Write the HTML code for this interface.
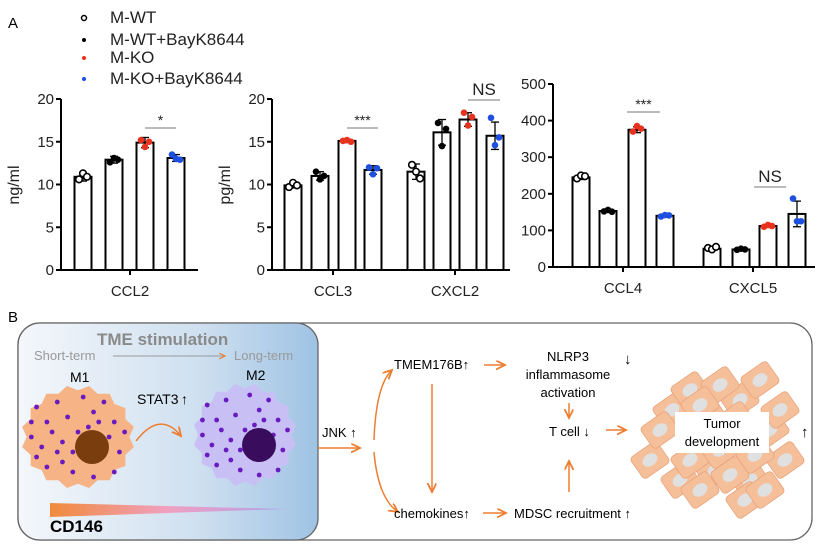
<!DOCTYPE html>
<html><head><meta charset="utf-8"><style>
body{margin:0;background:#fff;}
svg{display:block;font-family:"Liberation Sans",Arial,sans-serif;}
</style></head><body>
<svg id="fig" width="827" height="548" viewBox="0 0 827 548" xmlns="http://www.w3.org/2000/svg">
<defs>
<linearGradient id="bg" x1="0" x2="1" y1="0" y2="0"><stop offset="0" stop-color="#f4f7fb"/><stop offset="0.6" stop-color="#cfe0f0"/><stop offset="1" stop-color="#9fc3e4"/></linearGradient>
<linearGradient id="cd" x1="0" x2="1"><stop offset="0" stop-color="#f08a3c"/><stop offset="0.5" stop-color="#f0a0c0"/><stop offset="1" stop-color="#b0a0e8"/></linearGradient>
<marker id="ar" markerWidth="8" markerHeight="8" refX="6" refY="3" orient="auto"><path d="M0,0 L6,3 L0,6" fill="none" stroke="#ed7d31" stroke-width="1.2"/></marker>
</defs>
<text x="8" y="28" font-size="15">A</text>
<g font-size="17" fill="#222">
<circle cx="84" cy="18" r="2.5" fill="none" stroke="#000" stroke-width="1.5"/><text x="110" y="23">M-WT</text>
<circle cx="84" cy="40" r="2" fill="#000"/><text x="110" y="45">M-WT+BayK8644</text>
<circle cx="84" cy="58" r="2" fill="#e8321e"/><text x="110" y="63">M-KO</text>
<circle cx="84" cy="79" r="2" fill="#1d4fe0"/><text x="110" y="84">M-KO+BayK8644</text>
</g>
<g id="charts"></g>
<text x="8" y="322" font-size="15">B</text>
<g>
<rect x="18" y="323" width="794" height="217" rx="22" fill="#fff" stroke="#666" stroke-width="1.3"/>
<rect x="18" y="323" width="300" height="217" rx="22" fill="url(#bg)" stroke="#666" stroke-width="1.3"/>
<text x="97" y="345" font-size="17" font-weight="bold" fill="#8a8a8a">TME stimulation</text>
<text x="34" y="360" font-size="13" fill="#999">Short-term</text>
<line x1="113" y1="356" x2="225" y2="356" stroke="#999" stroke-width="1" marker-end="url(#ar)"/>
<text x="234" y="360" font-size="13" fill="#999">Long-term</text>
<text x="70" y="382" font-size="14">M1</text><text x="246" y="380" font-size="14">M2</text>
<g id="cells"></g>
<text x="137" y="404" font-size="14">STAT3</text><text x="181" y="404" font-size="14">↑</text>
<path d="M136,441 Q160,410 181,436" fill="none" stroke="#ed7d31" stroke-width="1.5" marker-end="url(#ar)"/>
<polygon points="50,503 50,517 286,509" fill="url(#cd)"/>
<text x="50" y="532" font-size="17" font-weight="bold">CD146</text>
<text x="322" y="437" font-size="13">JNK ↑</text>
<line x1="318" y1="448" x2="360" y2="448" stroke="#ed7d31" stroke-width="1.5" marker-end="url(#ar)"/>
<path d="M374,440 Q376,385 392,370" fill="none" stroke="#ed7d31" stroke-width="1.5" marker-end="url(#ar)"/>
<path d="M374,452 Q378,498 398,512" fill="none" stroke="#ed7d31" stroke-width="1.5" marker-end="url(#ar)"/>
<text x="394" y="369" font-size="13">TMEM176B↑</text>
<line x1="484" y1="365" x2="505" y2="365" stroke="#ed7d31" stroke-width="1.5" marker-end="url(#ar)"/>
<line x1="432" y1="384" x2="432" y2="492" stroke="#ed7d31" stroke-width="1.5" marker-end="url(#ar)"/>
<text x="394" y="518" font-size="13">chemokines↑</text>
<line x1="483" y1="513" x2="506" y2="513" stroke="#ed7d31" stroke-width="1.5" marker-end="url(#ar)"/>
<text x="514" y="518" font-size="13">MDSC recruitment ↑</text>
<text x="568" y="361" font-size="13" text-anchor="middle">NLRP3</text>
<text x="568" y="379" font-size="13" text-anchor="middle">inflammasome</text>
<text x="568" y="397" font-size="13" text-anchor="middle">activation</text>
<text x="624" y="364" font-size="15">↓</text>
<line x1="569" y1="403" x2="569" y2="418" stroke="#ed7d31" stroke-width="1.5" marker-end="url(#ar)"/>
<text x="549" y="436" font-size="13">T cell ↓</text>
<line x1="606" y1="430" x2="626" y2="430" stroke="#ed7d31" stroke-width="1.5" marker-end="url(#ar)"/>
<line x1="569" y1="492" x2="569" y2="461" stroke="#ed7d31" stroke-width="1.5" marker-end="url(#ar)"/>
<g id="tumor"></g>
<rect x="675" y="412" width="94" height="41" fill="#fff"/>
<text x="722" y="428" font-size="13" text-anchor="middle">Tumor</text>
<text x="722" y="446" font-size="13" text-anchor="middle">development</text>
<text x="801" y="437" font-size="15">↑</text>
</g>
</svg>
<script>
const NS="http://www.w3.org/2000/svg";
function mk(tag,attrs,parent){const e=document.createElementNS(NS,tag);for(const k in attrs)e.setAttribute(k,attrs[k]);parent.appendChild(e);return e;}
const groupColors=["open","#000","#e8321e","#1d4fe0"];
const categories=["CCL2","CCL3","CXCL2","CCL4","CXCL5"];
const meanCCL2=[10.9,12.9,14.9,13.1];
const meanCCL3=[9.9,11.0,15.1,11.7];
const meanCXCL2=[11.5,16.1,17.6,15.7];
const meanCCL4=[245,153,375,140];
const meanCXCL5=[50,48,112,145];
const ptsCCL2=[[10.6,11.3,10.9],[12.6,13.1,12.9],[15.2,14.4,15.0],[13.5,13.0,12.9]];
const ptsCCL3=[[9.7,10.2,9.9],[11.5,10.6,11.0],[15.1,15.2,15.0],[12.0,11.2,11.9]];
const ptsCXCL2=[[12.3,11.5,10.7],[17.2,14.5,16.5],[18.4,16.9,17.9],[17.8,14.6,15.5]];
const ptsCCL4=[[242,250,248],[152,156,151],[370,385,378],[138,142,141]];
const ptsCXCL5=[[52,48,55],[47,50,48],[110,115,112],[187,125,125]];
const sdCCL2=[0.5,0.4,0.6,0.4];
const sdCCL3=[0.3,0.5,0.2,0.5];
const sdCXCL2=[0.9,1.5,0.8,1.6];
const sdCCL4=[6,4,8,4];
const sdCXCL5=[4,3,4,35];
const yTicks1=[0,5,10,15,20];
const yTicks3=[0,100,200,300,400,500];
const charts=[
 {ax:61,x1:198,y0:270,yt:99,max:20,ticks:yTicks1,label:"ng/ml",cats:[{name:categories[0],c:[83,114,145,176],m:meanCCL2,p:ptsCCL2,s:sdCCL2,tick:130}],sig:[{x1:145,x2:176,y:128,t:"*"}]},
 {ax:272,x1:510,y0:270,yt:99,max:20,ticks:yTicks1,label:"pg/ml",cats:[{name:categories[1],c:[293,320,347,373],m:meanCCL3,p:ptsCCL3,s:sdCCL3,tick:333},{name:categories[2],c:[416,442,468,495],m:meanCXCL2,p:ptsCXCL2,s:sdCXCL2,tick:455}],sig:[{x1:347,x2:378,y:128,t:"***"},{x1:468,x2:500,y:100,t:"NS"}]},
 {ax:553,x1:815,y0:267,yt:84,max:500,ticks:yTicks3,label:null,cats:[{name:categories[3],c:[581,608,637,665],m:meanCCL4,p:ptsCCL4,s:sdCCL4,tick:623},{name:categories[4],c:[712,741,768,797],m:meanCXCL5,p:ptsCXCL5,s:sdCXCL5,tick:753}],sig:[{x1:627,x2:660,y:112,t:"***"},{x1:754,x2:786,y:187,t:"NS"}]}
];
const G=document.getElementById("charts");
charts.forEach((ch,ci)=>{
 const g=mk("g",{},G);
 
 
 const y=v=>ch.y0-(v/ch.max)*(ch.y0-ch.yt);
 const ya=mk("line",{x1:ch.ax,x2:ch.ax,y1:ch.yt,y2:ch.y0,stroke:"#000","stroke-width":2},g);
 
 
 const xa=mk("line",{x1:ch.ax-1,x2:ch.x1,y1:ch.y0,y2:ch.y0,stroke:"#000","stroke-width":2},g);
 
 
 ch.ticks.forEach(t=>{
  mk("line",{x1:ch.ax-5,x2:ch.ax,y1:y(t),y2:y(t),stroke:"#000","stroke-width":2},g);
  const tl=mk("text",{x:ch.ax-7,y:y(t)+5,"font-size":15,"text-anchor":"end",fill:"#222"},g);tl.textContent=t;
  
  
 });
 if(ch.label){const l=mk("text",{x:0,y:0,"font-size":16,"text-anchor":"middle",fill:"#222",transform:`translate(${ch.ax-42},185) rotate(-90)`},g);l.textContent=ch.label;
  
  }
 ch.cats.forEach(cat=>{
  mk("line",{x1:cat.tick,x2:cat.tick,y1:ch.y0,y2:ch.y0+5,stroke:"#000","stroke-width":2},g);
  const cl=mk("text",{x:cat.tick,y:ch.y0+26,"font-size":15,"text-anchor":"middle",fill:"#222"},g);cl.textContent=cat.name;
  
  
  cat.m.forEach((v,i)=>{
   const cx=cat.c[i];
   const b=mk("rect",{x:cx-8.5,y:y(v),width:17,height:ch.y0-y(v),fill:"#fff",stroke:"#000","stroke-width":2},g);
   
   
   const sd=cat.s[i];
   mk("line",{x1:cx,x2:cx,y1:y(v+sd),y2:y(v-sd),stroke:"#000","stroke-width":1.3},g);
   mk("line",{x1:cx-4,x2:cx+4,y1:y(v+sd),y2:y(v+sd),stroke:"#000","stroke-width":1.3},g);
   mk("line",{x1:cx-4,x2:cx+4,y1:y(v-sd),y2:y(v-sd),stroke:"#000","stroke-width":1.3},g);
   cat.p[i].forEach((pv,j)=>{
    const col=groupColors[i];
    const pt=mk("circle",{cx:cx+(j-1)*4,cy:y(pv),r:3.3,fill:col==="open"?"#fff":col,stroke:col==="open"?"#000":col,"stroke-width":col==="open"?1.6:0},g);
    
    
   });
  });
 });
 ch.sig.forEach(s=>{
  mk("line",{x1:s.x1,x2:s.x2,y1:s.y,y2:s.y,stroke:"#777","stroke-width":1},g);
  const st=mk("text",{x:(s.x1+s.x2)/2,y:s.t==="NS"?s.y-5:s.y-3,"font-size":s.t==="NS"?17:14,"text-anchor":"middle",fill:"#222"},g);st.textContent=s.t;
  
  
 });
});
// cells
const C=document.getElementById("cells");
function blob(cx,cy,rx,ry,fill,nuc){
 let d="";const n=16;
 for(let i=0;i<=n*2;i++){const a=i*Math.PI/n;const k=i%2?1:0.9;d+=(i?"L":"M")+(cx+rx*k*Math.cos(a)).toFixed(1)+","+(cy+ry*k*Math.sin(a)).toFixed(1);}
 mk("path",{d:d+"Z",fill:fill},C);
 const dots=[[-40,-30],[-30,-15],[-20,-35],[-10,-20],[5,-40],[15,-25],[25,-35],[35,-15],[-45,0],[-35,10],[-25,-5],[-15,5],[0,-5],[30,0],[40,15],[-40,20],[-30,30],[-15,25],[-5,35],[15,40],[35,35],[-20,15],[10,-10],[-45,-15],[20,-15],[-5,15],[45,-5]];
 dots.forEach(p=>mk("circle",{cx:cx+p[0]*rx/55,cy:cy+p[1]*ry/52,r:2.4,fill:"#6a1bc0"},C));
 mk("circle",{cx:cx+14,cy:cy+10,r:17,fill:nuc},C);
}
blob(78,437,57,52,"#f5b386","#7a3d0e");
blob(245,435,52,52,"#c8c0f5","#3a0c5e");
// tumor cells
const T=document.getElementById("tumor");
const tc=[[650,460],[672,410],[690,390],[700,440],[715,470],[740,400],[760,380],[770,430],[750,480],[730,440],[680,480],[785,460],[660,430],[710,420],[745,500],[765,490],[720,385],[700,405],[735,420],[690,460],[720,450],[755,455],[780,410],[700,490],[730,475]];
tc.forEach(p=>{const g=mk("g",{transform:`translate(${p[0]},${p[1]}) rotate(-35)`},T);
 mk("rect",{x:-16,y:-13,width:32,height:26,rx:4,fill:"#f5bf99",stroke:"#e8a27a","stroke-width":0.8},g);
 mk("ellipse",{cx:0,cy:0,rx:8,ry:6,fill:"#e0e0e0"},g);});
</script>
</body></html>
